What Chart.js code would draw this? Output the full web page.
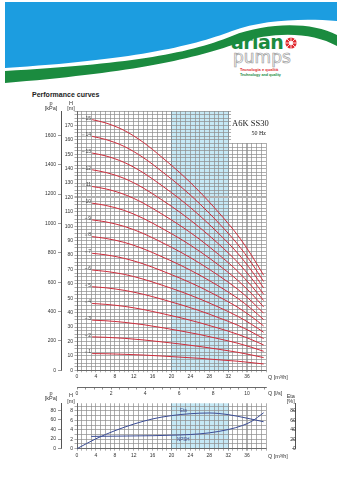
<!DOCTYPE html>
<html>
<head>
<meta charset="utf-8">
<title>A6K SS30 - Performance curves</title>
<script src="https://cdn.jsdelivr.net/npm/chart.js@4.4.1/dist/chart.umd.min.js"></script>
<style>
  html, body { margin: 0; padding: 0; background: #fff; }
  body { width: 342px; height: 480px; position: relative; overflow: hidden; font-family: "Liberation Sans", Arial, sans-serif; }
  #banner { position: absolute; left: 0; top: 0; }
  #title { position: absolute; left: 32px; top: 91px; font-size: 7px; font-weight: bold; color: #222; white-space: nowrap; }
  #main { position: absolute; left: 0; top: 100px; }
  #lower { position: absolute; left: 0; top: 385px; }
</style>
</head>
<body>
<svg id="banner" width="342" height="84" viewBox="0 0 342 84">
  <path d="M5 2 H337 V21 C302 18 262 20 232 31 C190 47 130 60 5 68 Z" fill="#1c9de0"/>
  <path d="M5 71 C125 64 185 55 232 36 C268 22 312 22 337 35 L337 46 C312 32 274 31 238 43 C188 61 125 73 5 83 Z" fill="#1b8b3f"/>
  <text x="231" y="49" font-family="'DejaVu Sans', sans-serif" font-weight="bold" font-size="19" fill="#1b8b3f" letter-spacing="-0.6">arian</text>
  <circle cx="291" cy="43" r="5.6" fill="#e0262c"/>
  <circle cx="291" cy="43" r="2" fill="#fff"/>
  <path d="M291 37.4 V48.6 M285.4 43 H296.6 M287 39 L295 47 M295 39 L287 47" stroke="#fff" stroke-width="0.8"/>
  <circle cx="257" cy="32" r="2.4" fill="#1b8b3f"/>
  <text x="233" y="63" font-family="'DejaVu Sans', sans-serif" font-size="17" fill="#fff" stroke="#a0a0a0" stroke-width="0.7">pumps</text>
  <text x="240" y="70.5" font-family="'Liberation Sans', sans-serif" font-weight="bold" font-size="4" fill="#e0262c">Tecnologia e qualità</text>
  <text x="240" y="76" font-family="'Liberation Sans', sans-serif" font-weight="bold" font-size="3.7" fill="#1b8b3f">Technology and quality</text>
</svg>
<div id="title">Performance curves</div>
<canvas id="main" width="342" height="300"></canvas>
<canvas id="lower" width="342" height="95"></canvas>
<script>
// flow rate points (m3/h) for the stage curves
var flow = [3.2, 6, 10, 14, 18, 22, 26, 30, 34, 37, 39.5];

// head (m) for 1..15 stages
var head1  = [11.6, 11.5, 11.1, 10.6, 9.9, 9.1, 8.3, 7.3, 6.3, 5.3, 4.4];
var head2  = [23.2, 22.9, 22.2, 21.1, 19.7, 18.2, 16.5, 14.6, 12.5, 10.6, 8.8];
var head3  = [34.8, 34.4, 33.3, 31.7, 29.6, 27.3, 24.8, 21.9, 18.8, 15.9, 13.2];
var head4  = [46.4, 45.8, 44.4, 42.2, 39.4, 36.4, 33.0, 29.2, 25.0, 21.2, 17.6];
var head5  = [58.0, 57.3, 55.5, 52.8, 49.3, 45.5, 41.3, 36.5, 31.3, 26.5, 22.0];
var head6  = [69.6, 68.7, 66.6, 63.3, 59.1, 54.6, 49.5, 43.8, 37.5, 31.8, 26.4];
var head7  = [81.2, 80.2, 77.7, 73.9, 69.0, 63.7, 57.8, 51.1, 43.8, 37.1, 30.8];
var head8  = [92.8, 91.6, 88.8, 84.4, 78.8, 72.8, 66.0, 58.4, 50.0, 42.4, 35.2];
var head9  = [104.4, 103.1, 99.9, 95.0, 88.7, 81.9, 74.3, 65.7, 56.3, 47.7, 39.6];
var head10 = [116.0, 114.5, 111.0, 105.5, 98.5, 91.0, 82.5, 73.0, 62.5, 53.0, 44.0];
var head11 = [127.6, 126.0, 122.1, 116.1, 108.4, 100.1, 90.8, 80.3, 68.8, 58.3, 48.4];
var head12 = [139.2, 137.4, 133.2, 126.6, 118.2, 109.2, 99.0, 87.6, 75.0, 63.6, 52.8];
var head13 = [150.8, 148.9, 144.3, 137.2, 128.1, 118.3, 107.3, 94.9, 81.3, 68.9, 57.2];
var head14 = [162.4, 160.3, 155.4, 147.7, 137.9, 127.4, 115.5, 102.2, 87.5, 74.2, 61.6];
var head15 = [174.0, 171.8, 166.5, 158.3, 147.8, 136.5, 123.8, 109.5, 93.8, 79.5, 66.0];
var stageNames = ['1','2','3','4','5','6','7','8','9','10','11','12','13','14','15'];
var heads = [head1, head2, head3, head4, head5, head6, head7, head8, head9, head10, head11, head12, head13, head14, head15];

// efficiency and NPSH
var effFlow = [0, 4, 8, 12, 16, 20, 24, 28, 32, 36, 39.5];
var efficiency = [0, 21, 38, 52, 63, 70, 74, 75.5, 72, 64.5, 57];
var npshFlow = [3, 8, 12, 16, 20, 24, 28, 32, 35, 37, 39.5];
var npsh = [2.6, 2.65, 2.7, 2.75, 2.85, 3.0, 3.35, 4.05, 4.9, 5.8, 7.6];

// recommended working range (m3/h)
var rangeFrom = 20, rangeTo = 32;

var qTickLabels = [0, 4, 8, 12, 16, 20, 24, 28, 32, 36];
var lsTickLabels = [0, 2, 4, 6, 8, 10];
var pTicks = [0, 200, 400, 600, 800, 1000, 1200, 1400, 1600];
var pLowTicks = [0, 20, 40, 60, 80];
var etaTicks = [0, 20, 40, 60, 80];

var FONT = '"Liberation Sans", Arial, sans-serif';
var tickFont = { family: FONT, size: 5 };
var GRID = '#8c8c8c';

function pairs(xs, ys) {
  return xs.map(function (x, i) { return { x: x, y: ys[i] }; });
}
function fixedTicks(values) {
  return function (s) { s.ticks = values.map(function (v) { return { value: v }; }); };
}
function plain(v) { return String(v); }

function vGridColor(c) {
  var v = c.tick ? c.tick.value : null;
  if (v === rangeFrom || v === rangeTo) return '#556570';
  if (v === 36) return '#b0b0b0';
  return GRID;
}
function vGridWidth(c) {
  var v = c.tick ? c.tick.value : null;
  if (v === 36) return 2;
  return 0.7;
}

// shaded working range, under the grid
var rangeBand = {
  id: 'rangeBand',
  beforeDraw: function (chart) {
    var a = chart.chartArea, xs = chart.scales.x, ctx = chart.ctx;
    ctx.save();
    ctx.fillStyle = '#c6e9f6';
    var x0 = xs.getPixelForValue(rangeFrom), x1 = xs.getPixelForValue(rangeTo);
    ctx.fillRect(x0, a.top, x1 - x0, a.bottom - a.top);
    ctx.restore();
  }
};

function text(ctx, s, x, y, align, size, color, family) {
  ctx.font = size + 'px ' + (family || FONT);
  ctx.fillStyle = color || '#333';
  ctx.textAlign = align || 'left';
  ctx.textBaseline = 'middle';
  ctx.fillText(s, x, y);
}

var mainNotes = {
  id: 'mainNotes',
  afterDraw: function (chart) {
    var ctx = chart.ctx, a = chart.chartArea;
    var xs = chart.scales.x, hs = chart.scales.h, ps = chart.scales.p;
    ctx.save();
    // stage numbers at the start of each curve
    heads.forEach(function (h, i) {
      var x = xs.getPixelForValue(flow[0]) - 1;
      var y = hs.getPixelForValue(h[0]) - 1.5;
      ctx.font = '5px ' + FONT;
      var w = ctx.measureText(stageNames[i]).width;
      text(ctx, stageNames[i], x, y, 'right', 5, '#444');
      ctx.strokeStyle = '#555';
      ctx.lineWidth = 0.5;
      ctx.beginPath();
      ctx.moveTo(x - w - 3.5, y);
      ctx.lineTo(x - w - 1, y);
      ctx.stroke();
    });
    // axis headers
    var pc = ps.right - 10, hc = hs.right - 6;
    text(ctx, 'p', pc, a.top - 8, 'center', 5.5);
    text(ctx, '[kPa]', pc, a.top - 3, 'center', 5.5);
    text(ctx, 'H', hc, a.top - 8, 'center', 5.5);
    text(ctx, '[m]', hc, a.top - 3, 'center', 5.5);
    text(ctx, 'Q [m\u00b3/h]', a.right + 2, xs.top + 7.5, 'left', 5.5);
    var ls = chart.scales.xls;
    text(ctx, 'Q [l/s]', a.right + 2, ls.top + 6.5, 'left', 5.5);
    // model box
    var bx = xs.getPixelForValue(32.6);
    ctx.fillStyle = '#fff';
    ctx.fillRect(bx, a.top, a.right - bx + 1, 32);
    text(ctx, 'A6K SS30', bx + 1, a.top + 12.5, 'left', 8.5, '#222', '"Liberation Serif", "Times New Roman", serif');
    text(ctx, '50 Hz', bx + 20.5, a.top + 22, 'left', 6, '#222', '"Liberation Serif", "Times New Roman", serif');
    ctx.restore();
  }
};

var stageSets = heads.map(function (h, i) {
  return {
    label: stageNames[i],
    data: pairs(flow, h),
    xAxisID: 'x', yAxisID: 'h',
    borderColor: '#cf2d3c', borderWidth: 1,
    pointRadius: 0, fill: false,
    cubicInterpolationMode: 'monotone'
  };
});

new Chart(document.getElementById('main'), {
  type: 'line',
  data: { datasets: stageSets },
  plugins: [rangeBand, mainNotes],
  options: {
    responsive: false, animation: false,
    layout: { padding: { left: 33, top: 11, right: 76, bottom: 1 } },
    plugins: { legend: { display: false }, tooltip: { enabled: false } },
    scales: {
      x: {
        type: 'linear', position: 'bottom', weight: 0, min: 0, max: 40,
        grid: { color: vGridColor, lineWidth: vGridWidth, tickLength: 2 },
        border: { display: true, color: '#555', width: 0.8 },
        ticks: {
          stepSize: 1, autoSkip: false, maxRotation: 0, includeBounds: false,
          padding: 1.5, font: tickFont, color: '#333',
          callback: function (v) { return qTickLabels.indexOf(v) >= 0 ? String(v) : ''; }
        },
        afterFit: function (s) { s.height = 16.7; }
      },
      xls: {
        type: 'linear', position: 'bottom', weight: 1, min: 0, max: 40 / 3.6,
        grid: { drawOnChartArea: false, color: '#444', lineWidth: 0.6, tickLength: 2.5 },
        border: { display: true, color: '#444', width: 0.8 },
        ticks: {
          stepSize: 0.5, autoSkip: false, maxRotation: 0, includeBounds: false,
          padding: 1.5, font: tickFont, color: '#333',
          callback: function (v) { return lsTickLabels.indexOf(v) >= 0 ? String(v) : ''; }
        },
        afterFit: function (s) { s.height = 12; }
      },
      h: {
        type: 'linear', position: 'left', weight: 0, min: 0, max: 180,
        grid: {
          color: function (c) { return c.tick && c.tick.value === 120 ? '#b0b0b0' : GRID; },
          lineWidth: function (c) { return c.tick && c.tick.value === 120 ? 2 : 0.7; },
          tickLength: 2.5
        },
        border: { display: true, color: '#555', width: 0.8 },
        ticks: {
          stepSize: 2.5, autoSkip: false, includeBounds: false,
          padding: 1.5, font: tickFont, color: '#333',
          callback: function (v) { return (v % 10 === 0 && v < 180) ? String(v) : ''; }
        },
        afterFit: function (s) { s.width = 16; }
      },
      p: {
        type: 'linear', position: 'left', weight: 10, min: 0, max: 180 * 9.81,
        grid: { drawOnChartArea: false, color: '#555', lineWidth: 0.6, tickLength: 3 },
        border: { display: true, color: '#555', width: 1 },
        afterBuildTicks: fixedTicks(pTicks),
        ticks: { autoSkip: false, padding: 2, font: tickFont, color: '#333', callback: plain },
        afterFit: function (s) { s.width = 28; }
      }
    }
  }
});

var lowerNotes = {
  id: 'lowerNotes',
  afterDraw: function (chart) {
    var ctx = chart.ctx, a = chart.chartArea;
    var xs = chart.scales.x, hs = chart.scales.h, ps = chart.scales.p, es = chart.scales.eta;
    ctx.save();
    var pc = ps.right - 10, hc = hs.right - 6;
    text(ctx, 'p', pc, a.top - 9.5, 'center', 5.5);
    text(ctx, '[kPa]', pc, a.top - 4.5, 'center', 5.5);
    text(ctx, 'H', hc, a.top - 8, 'center', 5.5);
    text(ctx, '[m]', hc, a.top - 2, 'center', 5.5);
    var ex = xs.getPixelForValue(46.3);
    text(ctx, 'Eta', ex - 5, a.top - 7, 'center', 5.5);
    text(ctx, '[%]', ex - 5, a.top - 1.5, 'center', 5.5);
    text(ctx, 'Q [m\u00b3/h]', a.right + 2, xs.top + 7.5, 'left', 5.5);
    // curve names
    text(ctx, 'Eta', xs.getPixelForValue(22.5), es.getPixelForValue(80), 'center', 4.5, '#3a4a90');
    text(ctx, 'NPSH', xs.getPixelForValue(22.5), hs.getPixelForValue(1.9), 'center', 4.5, '#3a4a90');
    ctx.restore();
  }
};

new Chart(document.getElementById('lower'), {
  type: 'line',
  data: {
    datasets: [
      {
        label: 'Eta', data: pairs(effFlow, efficiency), xAxisID: 'x', yAxisID: 'eta',
        borderColor: '#3b4d96', borderWidth: 1, pointRadius: 0, fill: false,
        cubicInterpolationMode: 'monotone'
      },
      {
        label: 'NPSH', data: pairs(npshFlow, npsh), xAxisID: 'x', yAxisID: 'h',
        borderColor: '#3b4d96', borderWidth: 1, pointRadius: 0, fill: false,
        cubicInterpolationMode: 'monotone'
      }
    ]
  },
  plugins: [rangeBand, lowerNotes],
  options: {
    responsive: false, animation: false,
    layout: { padding: { left: 33, top: 18.3, right: 76, bottom: 19.3 } },
    plugins: { legend: { display: false }, tooltip: { enabled: false } },
    scales: {
      x: {
        type: 'linear', position: 'bottom', min: 0, max: 40,
        grid: { color: vGridColor, lineWidth: vGridWidth, tickLength: 2 },
        border: { display: true, color: '#555', width: 0.8 },
        ticks: {
          stepSize: 1, autoSkip: false, maxRotation: 0, includeBounds: false,
          padding: 1.5, font: tickFont, color: '#333',
          callback: function (v) { return qTickLabels.indexOf(v) >= 0 ? String(v) : ''; }
        },
        afterFit: function (s) { s.height = 12; }
      },
      h: {
        type: 'linear', position: 'left', weight: 0, min: 0, max: 9.6,
        grid: { color: GRID, lineWidth: 0.7, tickLength: 2.5 },
        border: { display: true, color: '#555', width: 0.8 },
        ticks: {
          stepSize: 1, autoSkip: false, includeBounds: false,
          padding: 1.5, font: tickFont, color: '#333',
          callback: function (v) { return v % 2 === 0 ? String(v) : ''; }
        },
        afterFit: function (s) { s.width = 16; }
      },
      p: {
        type: 'linear', position: 'left', weight: 10, min: 0, max: 9.6 * 9.81,
        grid: { drawOnChartArea: false, color: '#555', lineWidth: 0.6, tickLength: 3 },
        border: { display: true, color: '#555', width: 1 },
        afterBuildTicks: fixedTicks(pLowTicks),
        ticks: { autoSkip: false, padding: 2, font: tickFont, color: '#333', callback: plain },
        afterFit: function (s) { s.width = 28; }
      },
      eta: {
        type: 'linear', position: { x: 46.3 }, min: 0, max: 96,
        grid: { drawOnChartArea: false, color: '#555', lineWidth: 0.6, tickLength: 3 },
        border: { display: true, color: '#555', width: 1 },
        afterBuildTicks: fixedTicks(etaTicks),
        ticks: { autoSkip: false, padding: 2, font: tickFont, color: '#333', callback: plain }
      }
    }
  }
});
</script>
</body>
</html>
